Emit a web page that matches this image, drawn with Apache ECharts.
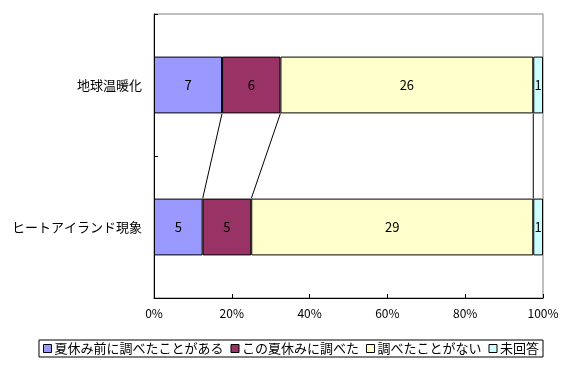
<!DOCTYPE html>
<html>
<head>
<meta charset="utf-8">
<script src="https://cdn.jsdelivr.net/npm/echarts@6/dist/echarts.min.js"></script>
<style>
html,body{margin:0;padding:0;background:#fff;}
#chart{width:582px;height:368px;}
</style>
</head>
<body>
<div id="chart"></div>
<script>
const categories = ['地球温暖化', 'ヒートアイランド現象'];
const seriesNames = ['夏休み前に調べたことがある', 'この夏休みに調べた', '調べたことがない', '未回答'];
const seriesColors = ['#9999FF', '#993366', '#FFFFCC', '#CCFFFF'];
const countsBefore = [7, 5];
const countsThisSummer = [6, 5];
const countsNever = [26, 29];
const countsNoAnswer = [1, 1];
const xTicks = { min: 0, max: 100, interval: 20 };

const allCounts = [countsBefore, countsThisSummer, countsNever, countsNoAnswer];
const totals = categories.map((_, i) => allCounts.reduce((s, arr) => s + arr[i], 0));
const pct = allCounts.map(arr => arr.map((v, i) => v / totals[i] * 100));

// series-line connectors between the two bars (cumulative boundaries)
const connectors = [];
for (let k = 0; k < allCounts.length - 1; k++) {
  const cum = categories.map((_, i) => {
    let s = 0;
    for (let j = 0; j <= k; j++) s += pct[j][i];
    return s;
  });
  connectors.push([cum[0], cum[1]]);
}

const FONT = '"Noto Sans CJK JP", "Noto Sans", sans-serif';
const chart = echarts.init(document.getElementById('chart'), null, { renderer: 'canvas' });

const barSeries = seriesNames.map((name, si) => ({
  name: name,
  type: 'bar',
  stack: 'total',
  barWidth: '40%',
  data: pct[si],
  itemStyle: { color: seriesColors[si], borderColor: '#000', borderWidth: 1 },
  label: {
    show: true,
    position: 'inside',
    color: '#000',
    fontSize: 13,
    fontFamily: FONT,
    formatter: p => String(allCounts[si][p.dataIndex])
  },
  emphasis: { disabled: true },
  z: 2
}));

const lineSeries = {
  type: 'custom',
  name: 'connectors',
  silent: true,
  clip: false,
  z: 1,
  data: connectors,
  encode: { x: [0, 1] },
  renderItem: function (params, api) {
    const p0 = api.coord([api.value(0), 0]);
    const p1 = api.coord([api.value(1), 1]);
    const band = api.size([0, 1])[1];
    const half = band * 0.2;
    return {
      type: 'line',
      shape: { x1: p0[0], y1: p0[1] + half, x2: p1[0], y2: p1[1] - half },
      style: { stroke: '#000', lineWidth: 1 }
    };
  }
};

chart.setOption({
  animation: false,
  backgroundColor: '#fff',
  textStyle: { fontFamily: FONT },
  grid: {
    left: 154, right: 39, top: 14, bottom: 70,
    show: true, borderColor: '#808080', borderWidth: 1, backgroundColor: '#fff'
  },
  legend: {
    data: seriesNames,
    left: 'center',
    top: 340,
    orient: 'horizontal',
    borderColor: '#000',
    borderWidth: 1,
    padding: [2, 4, 2, 4],
    itemGap: 7,
    itemWidth: 8,
    itemHeight: 8,
    icon: 'rect',
    itemStyle: { borderColor: '#000', borderWidth: 1 },
    textStyle: { fontSize: 13, color: '#000', fontFamily: FONT, padding: [0, 0, 0, -2] },
    selectedMode: false
  },
  xAxis: {
    type: 'value',
    min: xTicks.min,
    max: xTicks.max,
    interval: xTicks.interval,
    axisLine: { show: true, lineStyle: { color: '#000', width: 1 } },
    axisTick: { show: true, inside: true, length: 4, lineStyle: { color: '#000' } },
    axisLabel: { formatter: '{value}%', color: '#000', fontSize: 12, margin: 9, fontFamily: FONT },
    splitLine: { show: false }
  },
  yAxis: {
    type: 'category',
    inverse: true,
    data: categories,
    axisLine: { show: true, lineStyle: { color: '#000', width: 1 } },
    axisTick: { show: true, inside: true, length: 4, lineStyle: { color: '#000' } },
    axisLabel: { color: '#000', fontSize: 13, margin: 12, fontFamily: FONT },
    splitLine: { show: false }
  },
  series: barSeries.concat([lineSeries])
});
</script>
</body>
</html>
